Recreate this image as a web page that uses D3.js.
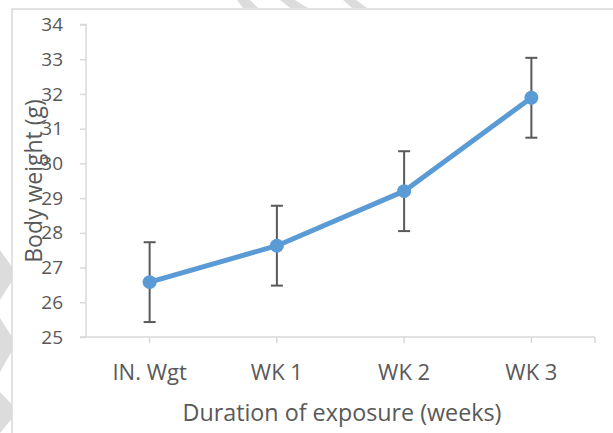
<!DOCTYPE html>
<html>
<head>
<meta charset="utf-8">
<script src="https://cdn.jsdelivr.net/npm/d3@7"></script>
<style>
  html, body { margin: 0; padding: 0; background: #fff; }
  svg { display: block; }
  text { font-family: "Open Sans", Lato, sans-serif; fill: #595959; }
</style>
</head>
<body>
<svg id="chart" width="613" height="433"></svg>
<script>
const categories = ["IN. Wgt", "WK 1", "WK 2", "WK 3"];
const bodyWeight = [26.58, 27.63, 29.2, 31.89];
const errorSize = [1.15, 1.15, 1.15, 1.15];
const yTicks = [25, 26, 27, 28, 29, 30, 31, 32, 33, 34];
const xTitle = "Duration of exposure (weeks)";
const yTitle = "Body weight (g)";

(function () {
const svg = d3.select("#chart");
const W = 613, H = 433;
const mLeft = 86, mRight = 595, mTop = 24.5, mBottom = 337;

// watermark fragments outside the chart frame
const wm = svg.append("g").attr("fill", "#dcdcdc");
[[237, 250, 243, 258], [280, 295, 290, 308], [343, 356, 352, 367]].forEach(([a, b, c, d]) => {
  wm.append("polygon").attr("points", `${a},0 ${b},0 ${d},8 ${c},8`);
});
const wmLeft = svg.append("g").attr("fill", "#dcdcdc");
[[250, 300], [318, 372], [392, 433]].forEach(([y0, y1]) => {
  const ym = (y0 + y1) / 2;
  wmLeft.append("polygon").attr("points", `0,${y0} 12,${ym - 8} 12,${ym + 6} 0,${y1}`);
});

// chart frame
svg.append("rect")
  .attr("x", 12).attr("y", 9)
  .attr("width", W + 20).attr("height", H + 20)
  .attr("fill", "#fff")
  .attr("stroke", "#d9d9d9").attr("stroke-width", 1.5);

const x = d3.scaleBand().domain(categories).range([mLeft, mRight]);
const y = d3.scaleLinear().domain([25, 34]).range([mBottom, mTop]);
const cx = d => x(d) + x.bandwidth() / 2;

// y axis
const yAxis = svg.append("g").attr("transform", `translate(${mLeft},0)`)
  .call(d3.axisLeft(y).tickValues(yTicks).tickSize(6).tickPadding(17).tickFormat(d3.format("d")));
yAxis.select(".domain").attr("stroke", "#d9d9d9").attr("stroke-width", 1.5)
  .attr("d", `M${-6},${mTop}H0V${mBottom}`);
yAxis.selectAll(".tick line").attr("stroke", "#d9d9d9").attr("stroke-width", 1.5);
yAxis.selectAll(".tick text").style("font-size", "19px").style("font-family", "'Open Sans', sans-serif").attr("fill", "#595959");

// x axis
const xAxis = svg.append("g").attr("transform", `translate(0,${mBottom})`);
xAxis.append("line").attr("x1", mLeft - 6).attr("x2", mRight).attr("y1", 0).attr("y2", 0)
  .attr("stroke", "#d9d9d9").attr("stroke-width", 1.5);
xAxis.selectAll("line.tk").data(categories).join("line").attr("class", "tk")
  .attr("x1", d => cx(d)).attr("x2", d => cx(d)).attr("y1", 0).attr("y2", 6)
  .attr("stroke", "#d9d9d9").attr("stroke-width", 1.5);
xAxis.append("line").attr("x1", mRight).attr("x2", mRight).attr("y1", 0).attr("y2", 6)
  .attr("stroke", "#d9d9d9").attr("stroke-width", 1.5);
xAxis.selectAll("text.lbl").data(categories).join("text").attr("class", "lbl")
  .attr("x", d => cx(d)).attr("y", 43)
  .attr("text-anchor", "middle").style("font-size", "22px")
  .text(d => d);

// titles
svg.append("text").attr("x", 342).attr("y", 421)
  .attr("text-anchor", "middle").style("font-size", "23.3px").text(xTitle);
svg.append("text")
  .attr("transform", `translate(42,181) rotate(-90)`)
  .attr("text-anchor", "middle").style("font-size", "23px").text(yTitle);

const data = categories.map((c, i) => ({ c, v: bodyWeight[i], e: errorSize[i] }));

// error bars
const eb = svg.append("g").attr("stroke", "#595959").attr("stroke-width", 2);
data.forEach(d => {
  eb.append("line").attr("x1", cx(d.c)).attr("x2", cx(d.c))
    .attr("y1", y(d.v - d.e)).attr("y2", y(d.v + d.e));
  [d.v - d.e, d.v + d.e].forEach(v => {
    eb.append("line").attr("x1", cx(d.c) - 6).attr("x2", cx(d.c) + 6)
      .attr("y1", y(v)).attr("y2", y(v));
  });
});

// line and markers
const line = d3.line().x(d => cx(d.c)).y(d => y(d.v));
svg.append("path").datum(data).attr("d", line)
  .attr("fill", "none").attr("stroke", "#5B9BD5").attr("stroke-width", 5)
  .attr("stroke-linejoin", "round").attr("stroke-linecap", "round");
svg.append("g").selectAll("circle").data(data).join("circle")
  .attr("cx", d => cx(d.c)).attr("cy", d => y(d.v)).attr("r", 7)
  .attr("fill", "#5B9BD5");
})();
</script>
</body>
</html>
